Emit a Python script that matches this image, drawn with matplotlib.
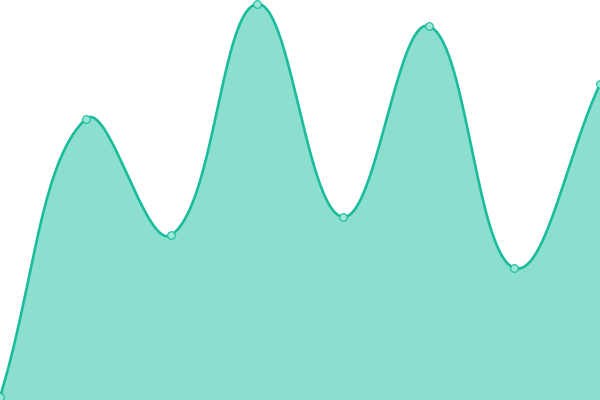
import matplotlib
matplotlib.use('Agg')
import matplotlib.pyplot as plt
import numpy as np

# values (y axis 0..400, hidden)
labels = ['A', 'B', 'C', 'D', 'E', 'F', 'G', 'H']
values = [3, 281, 165, 396, 183, 374, 132, 316]

LINE_COLOR = '#1abc9c'
FILL_COLOR = '#8cdfcf'
TENSION = 0.4


def spline_path(px, py, tension=TENSION, ymin=0.0, ymax=400.0, n=40):
    """Chart.js style bezier spline through points given in pixel space."""
    m = len(px)
    cps = []
    for i in range(m):
        p0 = (px[max(i - 1, 0)], py[max(i - 1, 0)])
        p1 = (px[i], py[i])
        p2 = (px[min(i + 1, m - 1)], py[min(i + 1, m - 1)])
        d01 = np.hypot(p1[0] - p0[0], p1[1] - p0[1])
        d12 = np.hypot(p2[0] - p1[0], p2[1] - p1[1])
        tot = d01 + d12
        s01 = d01 / tot if tot else 0
        s12 = d12 / tot if tot else 0
        fa, fb = tension * s01, tension * s12
        prev = (p1[0] - fa * (p2[0] - p0[0]), p1[1] - fa * (p2[1] - p0[1]))
        nxt = (p1[0] + fb * (p2[0] - p0[0]), p1[1] + fb * (p2[1] - p0[1]))
        prev = (prev[0], min(max(prev[1], ymin), ymax))
        nxt = (nxt[0], min(max(nxt[1], ymin), ymax))
        cps.append((prev, nxt))
    xs, ys = [px[0]], [py[0]]
    t = np.linspace(0, 1, n)[1:]
    for i in range(m - 1):
        a = np.array([px[i], py[i]])
        b = np.array(cps[i][1])
        c = np.array(cps[i + 1][0])
        d = np.array([px[i + 1], py[i + 1]])
        pts = ((1 - t) ** 3)[:, None] * a + (3 * (1 - t) ** 2 * t)[:, None] * b \
            + (3 * (1 - t) * t ** 2)[:, None] * c + (t ** 3)[:, None] * d
        xs.extend(pts[:, 0])
        ys.extend(pts[:, 1])
    return np.array(xs), np.array(ys)


fig = plt.figure(figsize=(6, 4), dpi=100)
ax = fig.add_axes([0, 0, 1, 1])
ax.set_xlim(0, len(values) - 1)
ax.set_ylim(0, 400)
ax.axis('off')

x = np.arange(len(values))
y = np.array(values, dtype=float)

# build the spline in display space so tension behaves like on screen
disp = ax.transData.transform(np.column_stack([x, y]))
bottom = ax.transData.transform([[0, 0]])[0][1]
top = ax.transData.transform([[0, 400]])[0][1]
sx, sy = spline_path(disp[:, 0], disp[:, 1], ymin=bottom, ymax=top)
curve = ax.transData.inverted().transform(np.column_stack([sx, sy]))

ax.fill_between(curve[:, 0], curve[:, 1], 0, color=FILL_COLOR, linewidth=0)
ax.plot(curve[:, 0], curve[:, 1], color=LINE_COLOR, linewidth=1.9,
        solid_capstyle='round', clip_on=False)
ax.plot(x, y, 'o', markersize=5.5, markerfacecolor='#9be6d8',
        markeredgecolor=LINE_COLOR, markeredgewidth=0.8, clip_on=False)

fig.savefig('out.png', dpi=100)
